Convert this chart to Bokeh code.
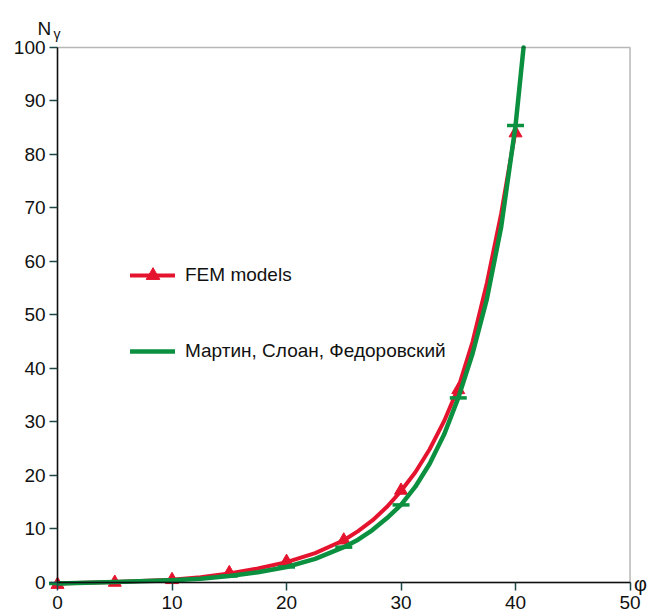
from bokeh.plotting import figure
from bokeh.models import Range1d, Legend, LegendItem, BoxAnnotation, Label, FixedTicker
from bokeh.embed import file_html
from bokeh.resources import INLINE

# Friction angle (degrees) and bearing capacity factor N_gamma
# FEM results (markers) and the smooth curve through them
phi_fem = [0, 5, 10, 15, 20, 25, 30, 35, 40]
ngamma_fem = [-0.4, 0.0, 0.5, 1.8, 3.9, 7.9, 17.2, 36.0, 84.0]
phi_fem_curve = [0, 5, 10, 12.5, 15, 17.5, 20, 22.5, 25, 26.25, 27.5, 28.75,
                 30, 31.25, 32.5, 33.75, 35, 36.25, 37.5, 38.75, 40]
ngamma_fem_curve = [-0.2, 0.1, 0.5, 1.0, 1.7, 2.6, 3.8, 5.5, 7.9, 9.6, 11.6,
                    14.1, 17.1, 20.6, 24.9, 30.1, 36.4, 45.0, 56.0, 69.0, 84.5]

# Martin / Sloan / Fedorovsky solution
phi_msf = [0, 5, 10, 15, 20, 25, 30, 35, 40]
ngamma_msf = [-0.2, 0.1, 0.4, 1.2, 2.9, 6.6, 14.5, 34.5, 85.4]
phi_msf_curve = [0, 5, 10, 12.5, 15, 17.5, 20, 22.5, 25, 26.25, 27.5, 28.75,
                 30, 31.25, 32.5, 33.75, 35, 36.25, 37.5, 38.75, 40, 40.7]
ngamma_msf_curve = [-0.2, 0.1, 0.4, 0.7, 1.2, 1.9, 2.9, 4.4, 6.6, 8.0, 9.8,
                    12.0, 14.5, 17.9, 22.2, 27.6, 34.5, 42.8, 53.0, 66.5,
                    85.4, 100.0]

x_ticks = [0, 10, 20, 30, 40, 50]
y_ticks = [0, 10, 20, 30, 40, 50, 60, 70, 80, 90, 100]

RED = "#e5142e"
GREEN = "#0b9040"
FONT = "Liberation Sans"
INK = "#111111"
TICK = "#1d4747"

# the frame fills the whole canvas; the axes are pinned at the origin
p = figure(width=649, height=612,
           x_range=Range1d(-4.98, 51.70), y_range=Range1d(-5.61, 108.78),
           output_backend="svg", toolbar_location=None,
           min_border_left=0, min_border_right=0,
           min_border_top=0, min_border_bottom=0)
p.outline_line_color = None
p.grid.visible = False
p.background_fill_color = "white"

p.xaxis.fixed_location = 0
p.yaxis.fixed_location = 0
p.xaxis.bounds = (0, 50)
p.yaxis.bounds = (0, 100)
p.xaxis.ticker = FixedTicker(ticks=x_ticks)
p.yaxis.ticker = FixedTicker(ticks=y_ticks)
for ax in (p.xaxis[0], p.yaxis[0]):
    ax.axis_line_color = INK
    ax.axis_line_width = 1.5
    ax.major_tick_line_color = TICK
    ax.major_tick_line_width = 1.5
    ax.major_tick_in = 0
    ax.major_tick_out = 8
    ax.minor_tick_line_color = None
    ax.major_label_text_font = FONT
    ax.major_label_text_font_size = "19px"
    ax.major_label_text_color = INK
p.xaxis.major_label_standoff = 6
p.yaxis.major_label_standoff = 4

# closing frame lines at the top and right
p.add_layout(BoxAnnotation(left=0, right=50, bottom=0, top=100,
                           fill_alpha=0, line_color=INK, line_width=1.5))

red_line = p.line(phi_fem_curve, ngamma_fem_curve, line_color=RED,
                  line_width=4, line_join="round", line_cap="round")
red_pts = p.scatter(phi_fem, ngamma_fem, marker="triangle", size=13,
                    fill_color=RED, line_color=RED)
green_line = p.line(phi_msf_curve, ngamma_msf_curve, line_color=GREEN,
                    line_width=4.5, line_join="round", line_cap="round")
green_pts = p.scatter(phi_msf, ngamma_msf, marker="dash", size=17,
                      line_color=GREEN, line_width=3.5)

legend = Legend(
    items=[LegendItem(label="FEM models", renderers=[red_line, red_pts]),
           LegendItem(label="Мартин, Слоан, Федоровский", renderers=[green_line])],
    location=(130, 244), border_line_color=None, background_fill_alpha=0,
    padding=0, margin=0, spacing=42, glyph_width=45, glyph_height=34,
    label_standoff=10, label_text_font=FONT, label_text_font_size="19px",
    label_text_color=INK)
p.add_layout(legend)

# axis titles at the ends of the axes
p.add_layout(Label(x=0, y=100, x_offset=-20, y_offset=19, text="N",
                   text_font=FONT, text_font_size="19px", text_color=INK,
                   text_baseline="alphabetic"))
p.add_layout(Label(x=0, y=100, x_offset=-4, y_offset=13, text="γ",
                   text_font=FONT, text_font_size="14px", text_color=INK,
                   text_baseline="alphabetic"))
p.add_layout(Label(x=50, y=0, x_offset=4, y_offset=-2, text="φ",
                   text_font=FONT, text_font_size="20px", text_color=INK,
                   text_baseline="alphabetic"))

open("out.html", "w").write(file_html(p, INLINE))
